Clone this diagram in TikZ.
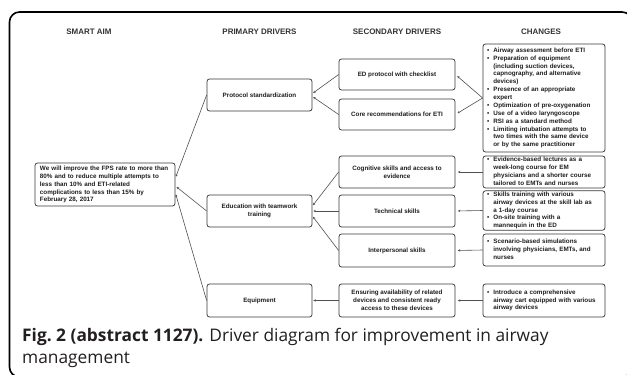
\documentclass[tikz,border=0pt]{standalone}
\usepackage{fontspec}
\setmainfont{Liberation Sans}
\newfontfamily\capfont{Open Sans}
\usetikzlibrary{arrows.meta,calc}

\definecolor{ink}{HTML}{1E1E1E}
\definecolor{headink}{HTML}{333333}
\definecolor{edge}{HTML}{3A3A3A}
\definecolor{wire}{HTML}{505050}
\definecolor{capink}{HTML}{231F20}

\newcommand{\bulletlist}[1]{\begin{tabular}{@{}l@{\hspace{4.2bp}}l@{}}#1\end{tabular}}

\tikzset{
  head/.style={font=\bfseries\fontsize{8}{9}\selectfont, text=headink},
  boxbase/.style={draw=edge, line width=0.75bp, rounded corners=2.5bp, fill=white,
    font=\bfseries\fontsize{6.3}{7.9}\selectfont, text=ink},
  drvbox/.style={boxbase, inner sep=2bp, align=center},
  aimbox/.style={boxbase, inner xsep=5bp, inner ysep=0pt, text width=130bp, align=left,
    minimum height=43bp},
  chgbox/.style={boxbase, inner xsep=4bp, inner ysep=0pt, text width=114bp, align=left},
  wire/.style={draw=wire, line width=0.6bp, -{Stealth[length=2.4bp,width=2.4bp]}},
  frame/.style={draw=black, line width=1.6bp, rounded corners=10bp},
  capt/.style={font=\capfont\fontsize{17.4}{20}\selectfont, text=capink, inner sep=0pt}
}

\begin{document}
\begin{tikzpicture}[x=1bp,y=-1bp]
\useasboundingbox (0,0) rectangle (627,374);
\clip (0,0) rectangle (627,374);
\fill[white] (0,0) rectangle (627,374);
\draw[frame] (9.5,12) rectangle (632,377);

% column headings
\node[head] (hAim) at (89,32) {SMART AIM};
\node[head] (hPri) at (259.5,32) {PRIMARY DRIVERS};
\node[head] (hSec) at (397,32) {SECONDARY DRIVERS};
\node[head] (hChg) at (541,32) {CHANGES};

% aim
\node[aimbox] (aim) at (105,184.5) {We will improve the FPS rate to more than\\
80\% and to reduce multiple attempts to\\
less than 10\% and ETI-related\\
complications to less than 15\% by\\
February 28, 2017};

% primary drivers
\node[drvbox, minimum width=105bp, minimum height=32bp] (prot) at (259.5,95) {Protocol standardization};
\node[drvbox, minimum width=105bp, minimum height=32bp] (edu) at (259.5,211) {Education with teamwork\\training};
\node[drvbox, minimum width=105bp, minimum height=33bp] (equip) at (259.5,300.5) {Equipment};

% secondary drivers
\node[drvbox, minimum width=116bp, minimum height=31bp] (ed) at (397,74.5) {ED protocol with checklist};
\node[drvbox, minimum width=116bp, minimum height=31bp] (core) at (397,114.5) {Core recommendations for ETI};
\node[drvbox, minimum width=116bp, minimum height=32bp] (cog) at (397,172) {Cognitive skills and access to\\evidence};
\node[drvbox, minimum width=116bp, minimum height=32bp] (tech) at (397,211) {Technical skills};
\node[drvbox, minimum width=116bp, minimum height=33bp] (inter) at (397,250.5) {Interpersonal skills};
\node[drvbox, minimum width=116bp, minimum height=33bp] (ens) at (397,300.5) {Ensuring availability of related\\devices and consistent ready\\access to these devices};

% changes
\node[chgbox, minimum height=108bp] (ch1) at (544,98) {\bulletlist{%
\textbullet & Airway assessment before ETI\\
\textbullet & Preparation of equipment\\
 & (including suction devices,\\
 & capnography, and alternative\\
 & devices)\\
\textbullet & Presence of an appropriate\\
 & expert\\
\textbullet & Optimization of pre-oxygenation\\
\textbullet & Use of a video laryngoscope\\
\textbullet & RSI as a standard method\\
\textbullet & Limiting intubation attempts to\\
 & two times with the same device\\
 & or by the same practitioner}};
\node[chgbox, minimum height=32bp] (ch2) at (544,172) {\bulletlist{%
\textbullet & Evidence-based lectures as a\\
 & week-long course for EM\\
 & physicians and a shorter course\\
 & tailored to EMTs and nurses}};
\node[chgbox, minimum height=39bp] (ch3) at (544,210.5) {\bulletlist{%
\textbullet & Skills training with various\\
 & airway devices at the skill lab as\\
 & a 1-day course\\
\textbullet & On-site training with a\\
 & mannequin in the ED}};
\node[chgbox, minimum height=32bp] (ch4) at (544,250) {\bulletlist{%
\textbullet & Scenario-based simulations\\
 & involving physicians, EMTs, and\\
 & nurses}};
\node[chgbox, minimum height=33bp] (ch5) at (544,300.5) {\bulletlist{%
\textbullet & Introduce a comprehensive\\
 & airway cart equipped with various\\
 & airway devices}};

% changes -> secondary drivers
\draw[wire, shorten >=2.5bp] (ch1.west) -- (ed.east);
\draw[wire, shorten >=2.5bp] (ch1.west) -- (core.east);
\draw[wire, shorten >=2.5bp] (ch2.west) -- (cog.east);
\draw[wire, shorten >=2.5bp] (ch3.west) -- (tech.east);
\draw[wire, shorten >=2.5bp] (ch4.west) -- (inter.east);
\draw[wire, shorten >=2.5bp] (ch5.west) -- (ens.east);

% secondary -> primary drivers
\draw[wire, shorten >=1bp] (ed.west) -- ($(prot.east)+(0,-1.5)$);
\draw[wire, shorten >=1bp] (core.west) -- ($(prot.east)+(0,1.5)$);
\draw[wire, shorten >=1bp] (cog.west) -- ($(edu.east)+(0,-5)$);
\draw[wire, shorten >=1bp] (tech.west) -- (edu.east);
\draw[wire, shorten >=1bp] (inter.west) -- ($(edu.east)+(0,5)$);
\draw[wire, shorten >=1bp] (ens.west) -- (equip.east);

% primary drivers -> aim
\draw[wire, shorten >=1.5bp] (prot.west) -- ($(aim.east)+(0,-6.5)$);
\draw[wire, shorten >=1.5bp] (edu.west) -- ($(aim.east)+(0,1.5)$);
\draw[wire, shorten >=1.5bp] (equip.west) -- ($(aim.east)+(0,8.5)$);

% caption
\node[capt, anchor=base west] (cap1) at (22,341) {\textbf{Fig.~2 (abstract 1127).} Driver diagram for improvement in airway};
\node[capt, anchor=base west] (cap2) at (22,363) {management};
\end{tikzpicture}
\end{document}
